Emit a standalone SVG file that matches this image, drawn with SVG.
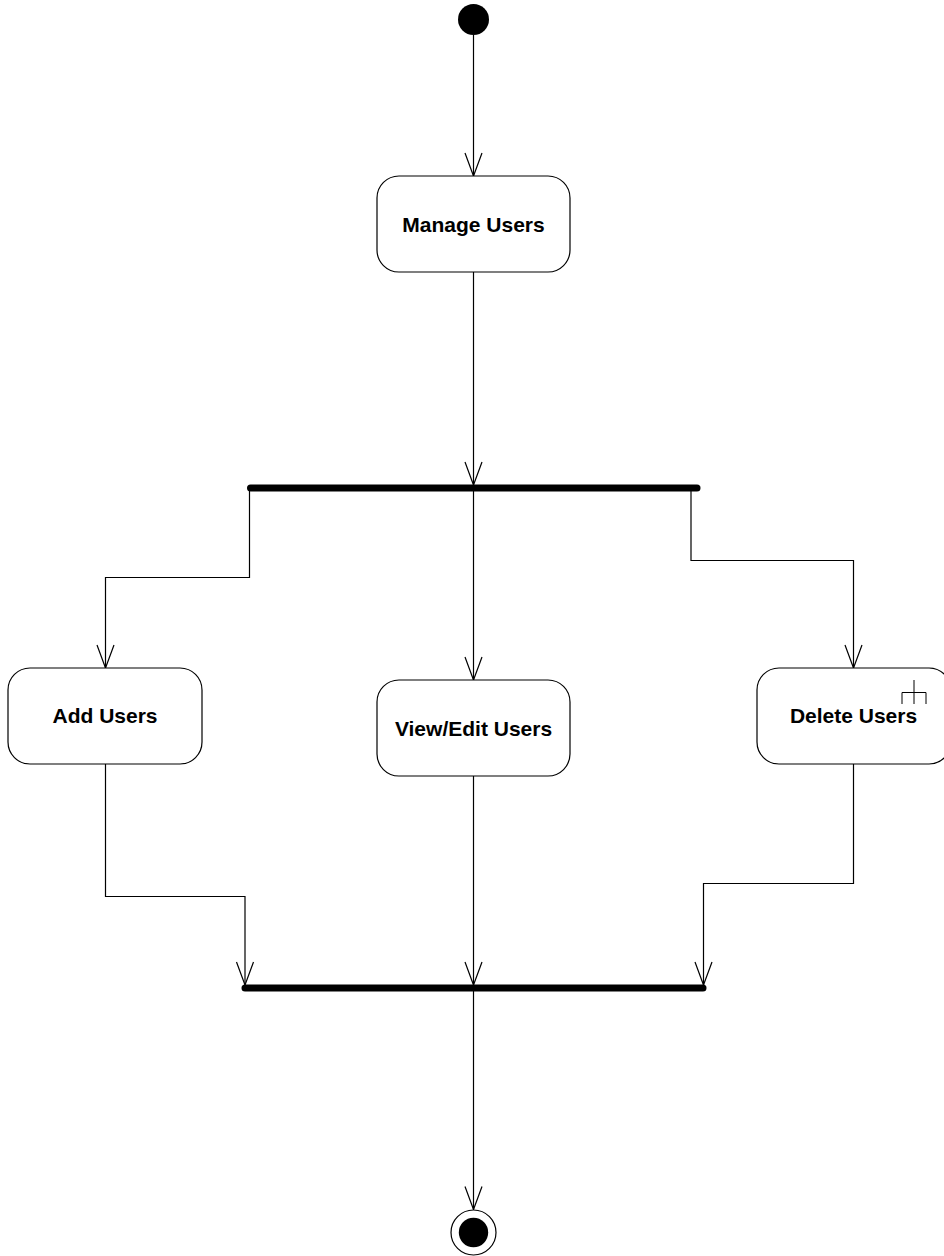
<svg xmlns="http://www.w3.org/2000/svg" width="944" height="1256" viewBox="0 0 944 1256">
<style>
.node{fill:#fff;stroke:#000;stroke-width:1.2}
.lbl{font-family:"Liberation Sans",Arial,sans-serif;font-weight:bold;font-size:21px;fill:#000;text-anchor:middle}
.edge{fill:none;stroke:#000;stroke-width:1.2}
.bar{stroke:#000;stroke-width:7;stroke-linecap:round}
</style>
<defs>
<marker id="arr" markerUnits="userSpaceOnUse" orient="auto" refX="0" refY="0" markerWidth="30" markerHeight="30" overflow="visible">
<path d="M-23,-8.5 L0,0 L-23,8.5" fill="none" stroke="#000" stroke-width="1.2"/>
</marker>
</defs>
<rect width="944" height="1256" fill="#fff"/>
<g id="connectors">
<path class="edge" d="M473.5,35 L473.5,176" marker-end="url(#arr)"/>
<path class="edge" d="M473.5,272 L473.5,485" marker-end="url(#arr)"/>
<path class="edge" d="M249.5,488 L249.5,577.5 L105.5,577.5 L105.5,668" marker-end="url(#arr)"/>
<path class="edge" d="M473.5,488 L473.5,680" marker-end="url(#arr)"/>
<path class="edge" d="M691,488 L691,560.5 L853.5,560.5 L853.5,668" marker-end="url(#arr)"/>
<path class="edge" d="M105.5,764 L105.5,896.5 L245,896.5 L245,985" marker-end="url(#arr)"/>
<path class="edge" d="M473.5,776 L473.5,985" marker-end="url(#arr)"/>
<path class="edge" d="M853.5,764 L853.5,883.5 L703.5,883.5 L703.5,985" marker-end="url(#arr)"/>
<path class="edge" d="M473.5,988 L473.5,1209.5" marker-end="url(#arr)"/>
</g>
<g id="start">
<circle cx="473.5" cy="19.5" r="15.5" fill="#000"/>
</g>
<g id="manage-users">
<rect class="node" x="377" y="176" width="193" height="96" rx="22" ry="22"/>
<text class="lbl" x="473.5" y="231.5">Manage Users</text>
</g>
<g id="fork">
<line class="bar" x1="250.5" y1="488" x2="697" y2="488"/>
</g>
<g id="add-users">
<rect class="node" x="8" y="668" width="194" height="96" rx="22" ry="22"/>
<text class="lbl" x="105" y="723">Add Users</text>
</g>
<g id="view-edit-users">
<rect class="node" x="377" y="680" width="193" height="96" rx="22" ry="22"/>
<text class="lbl" x="473.5" y="735.5">View/Edit Users</text>
</g>
<g id="delete-users">
<rect class="node" x="757" y="668" width="194" height="96" rx="22" ry="22"/>
<text class="lbl" x="853.5" y="723">Delete Users</text>
<path d="M902,704 L902,692.5 L926,692.5 L926,704 M914,680 L914,704" fill="none" stroke="#000" stroke-width="1"/>
</g>
<g id="join">
<line class="bar" x1="245" y1="988" x2="703" y2="988"/>
</g>
<g id="end">
<circle cx="473.5" cy="1232.5" r="22.5" fill="#fff" stroke="#000" stroke-width="1.2"/>
<circle cx="473.5" cy="1232.5" r="14.7" fill="#000"/>
</g>
</svg>
